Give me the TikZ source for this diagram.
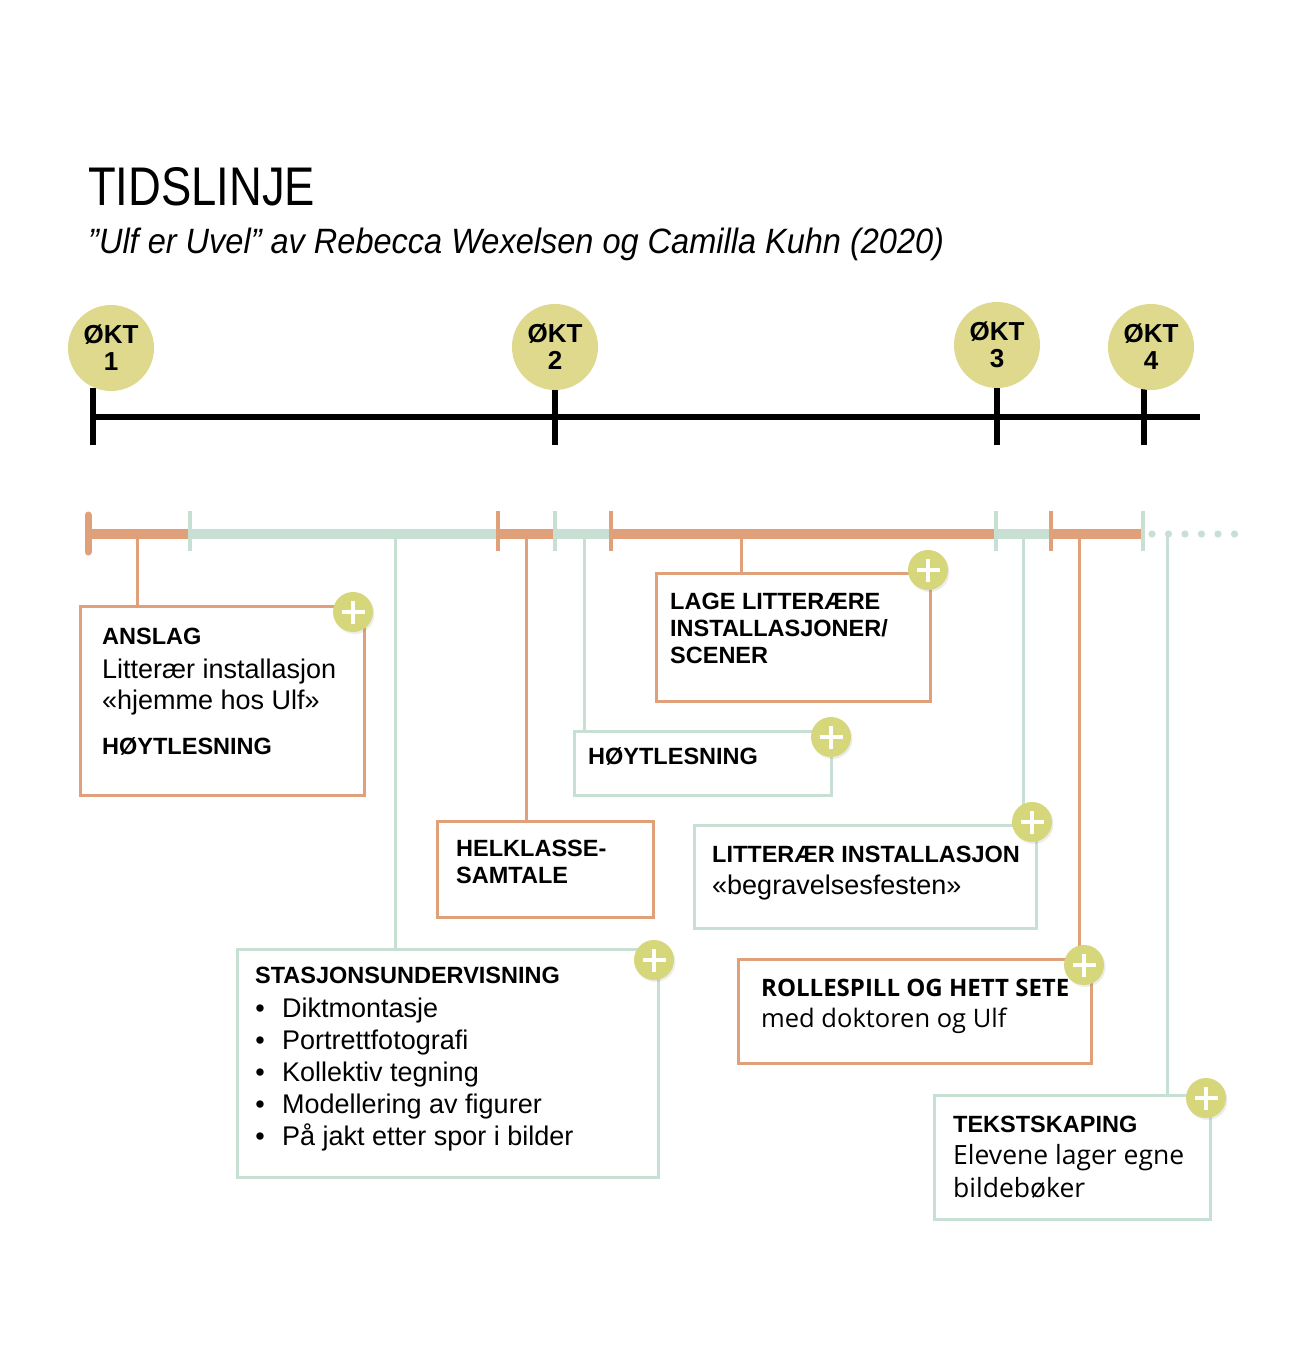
\documentclass[tikz,border=0pt]{standalone}
\usepackage{fontspec}
\setmainfont{Liberation Sans}
\newfontfamily\osans{Open Sans}
\usetikzlibrary{calc,shadows}
\definecolor{ora}{HTML}{E0A07A}
\definecolor{grn}{HTML}{C8E0D4}
\definecolor{okty}{HTML}{DED98C}
\definecolor{plusy}{HTML}{D6D67A}
\tikzset{
  obox/.style={draw=ora, line width=3pt, inner sep=0pt, outer sep=0pt, anchor=north west},
  gbox/.style={draw=grn, line width=3pt, inner sep=0pt, outer sep=0pt, anchor=north west},
  txt/.style={anchor=base west, inner sep=0pt},
  bt/.style={txt, font=\bfseries\fontsize{23.5}{27}\selectfont},
  rt/.style={txt, font=\fontsize{27}{32}\selectfont},
  obt/.style={txt, font=\osans\bfseries\fontsize{24}{27}\selectfont},
  ort/.style={txt, font=\osans\fontsize{25.5}{32}\selectfont},
  ort2/.style={txt, font=\osans\fontsize{26.5}{32}\selectfont},
  okt/.style={circle, fill=okty, minimum size=86pt, inner sep=0pt, align=center,
    font=\bfseries\fontsize{26}{27}\selectfont},
  plus/.style={circle, fill=plusy, minimum size=40pt, inner sep=0pt,
    drop shadow={opacity=0.15, shadow xshift=1.5pt, shadow yshift=-2pt},
    path picture={\draw[white, line width=4pt]
      ($(path picture bounding box.center)+(-11.5pt,0)$) -- ($(path picture bounding box.center)+(11.5pt,0)$)
      ($(path picture bounding box.center)+(0,-11.5pt)$) -- ($(path picture bounding box.center)+(0,11.5pt)$);}},
  oconn/.style={draw=ora, line width=3pt},
  gconn/.style={draw=grn, line width=3pt},
  oseg/.style={draw=ora, line width=10pt},
  gseg/.style={draw=grn, line width=10pt},
  otick/.style={draw=ora, line width=4pt},
  gtick/.style={draw=grn, line width=4pt},
}
\begin{document}
\begin{tikzpicture}[x=1pt, y=-1pt]
\useasboundingbox[fill=white] (0,0) rectangle (1300,1372);

% title
\node[txt] (title) at (88,206) {\resizebox{227pt}{38pt}{\fontsize{56}{56}\selectfont TIDSLINJE}};
\node[txt] (subtitle) at (88,254) {\resizebox{856pt}{25.5pt}{\itshape\fontsize{32.5}{33}\selectfont ”Ulf er Uvel” av Rebecca Wexelsen og Camilla Kuhn (2020)}};

% black timeline
\draw[line width=6pt] (92,417) -- (1200,417);
\foreach \x in {93,555,997,1144} \draw[line width=6pt] (\x,388) -- (\x,445);
\node[okt] (o1) at (111,348) {ØKT\\1};
\node[okt] (o2) at (555,347) {ØKT\\2};
\node[okt] (o3) at (997,345) {ØKT\\3};
\node[okt] (o4) at (1151,347) {ØKT\\4};

% timeline coordinates for connectors
\coordinate (ta) at (137,534);
\coordinate (ts) at (395,534);
\coordinate (th) at (526,534);
\coordinate (thy) at (584,534);
\coordinate (tl) at (741,534);
\coordinate (tli) at (1023,534);
\coordinate (tr) at (1079,534);
\coordinate (tt) at (1167,534);

% boxes
\node[obox, minimum width=284pt, minimum height=189pt] (anslag) at (80,606) {};
\node[gbox, minimum width=421pt, minimum height=228pt] (stasj) at (237,949) {};
\node[obox, minimum width=216pt, minimum height=96pt] (helk) at (437,821) {};
\node[obox, minimum width=274pt, minimum height=128pt] (lage) at (656,573) {};
\node[gbox, minimum width=257pt, minimum height=64pt] (hoyt) at (574,731) {};
\node[gbox, minimum width=342pt, minimum height=103pt] (litt) at (694,825) {};
\node[obox, minimum width=353pt, minimum height=104pt] (rolle) at (738,959) {};
\node[gbox, minimum width=276pt, minimum height=124pt] (tekst) at (934,1095) {};

% connectors
\draw[oconn] (ta) -- (ta |- anslag.north);
\draw[gconn] (ts) -- (ts |- stasj.north);
\draw[oconn] (th) -- (th |- helk.north);
\draw[gconn] (thy) -- (thy |- hoyt.north);
\draw[oconn] (tl) -- (tl |- lage.north);
\draw[gconn] (tli) -- (tli |- litt.north);
\draw[oconn] (tr) -- (tr |- rolle.north);
\draw[gconn] (tt) -- (tt |- tekst.north);

% coloured timeline
\draw[oseg] (88,534) -- (190,534);
\draw[gseg] (190,534) -- (498,534);
\draw[oseg] (498,534) -- (555,534);
\draw[gseg] (555,534) -- (611,534);
\draw[oseg] (611,534) -- (996,534);
\draw[gseg] (996,534) -- (1051,534);
\draw[oseg] (1051,534) -- (1143,534);
\draw[draw=ora, line width=7pt, line cap=round] (88,515) -- (88,552);
\foreach \x in {190,555,996,1143} \draw[gtick] (\x,511) -- (\x,551);
\foreach \x in {498,611,1051} \draw[otick] (\x,511) -- (\x,551);
\foreach \k in {0,...,5} \fill[grn] (1152+16.5*\k,534) circle (3.6pt);

% texts
\node[bt] (t1) at (102,644) {ANSLAG};
\node[rt] (t2) at (102,678) {Litterær installasjon};
\node[rt] (t3) at (102,709) {«hjemme hos Ulf»};
\node[bt] (t4) at (102,754) {HØYTLESNING};

\node[bt] (s0) at (255,983) {STASJONSUNDERVISNING};
\foreach \y/\t [count=\i] in {1017/Diktmontasje,1049/Portrettfotografi,1081/Kollektiv tegning,1113/Modellering av figurer,1145/På jakt etter spor i bilder}{
  \node[rt, anchor=base] (sb\i) at (260,\y) {•};
  \node[rt] (s\i) at (282,\y) {\t};
}

\node[bt] (h1) at (456,856) {HELKLASSE-};
\node[bt] (h2) at (456,883) {SAMTALE};

\node[bt] (l1) at (670,609) {LAGE LITTERÆRE};
\node[bt] (l2) at (670,636) {INSTALLASJONER/};
\node[bt] (l3) at (670,663) {SCENER};

\node[bt] (hy) at (588,764) {HØYTLESNING};

\node[bt] (li1) at (712,862) {LITTERÆR INSTALLASJON};
\node[rt] (li2) at (712,894) {«begravelsesfesten»};

\node[obt] (r1) at (761,996) {ROLLESPILL OG HETT SETE};
\node[ort] (r2) at (761,1027) {med doktoren og Ulf};

\node[bt] (k1) at (953,1132) {TEKSTSKAPING};
\node[ort2] (k2) at (953,1164) {Elevene lager egne};
\node[ort2] (k3) at (953,1197) {bildebøker};

% plus buttons
\node[plus] (p1) at (353,612) {};
\node[plus] (p2) at (654,960) {};
\node[plus] (p3) at (928,570) {};
\node[plus] (p4) at (831,737) {};
\node[plus] (p5) at (1032,822) {};
\node[plus] (p6) at (1084,965) {};
\node[plus] (p7) at (1206,1098) {};
\end{tikzpicture}
\end{document}
